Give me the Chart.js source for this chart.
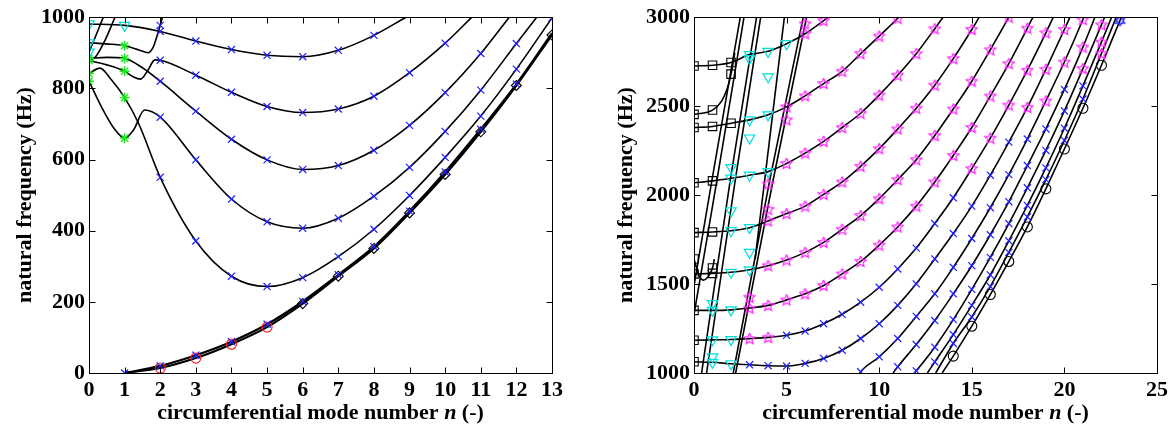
<!DOCTYPE html>
<html>
<head>
<meta charset="utf-8">
<script src="https://cdn.jsdelivr.net/npm/chart.js@4.4.0/dist/chart.umd.min.js"></script>
<style>
  body { margin: 0; background: #fff; width: 1176px; height: 430px; position: relative; overflow: hidden; }
  canvas { position: absolute; top: 0; }
  #left { left: 0; }
  #right { left: 596px; }
</style>
</head>
<body>
<canvas id="left" width="580" height="430"></canvas>
<canvas id="right" width="580" height="430"></canvas>
<script>
const FONT = '"Liberation Serif", "Times New Roman", serif';

// ---------- left panel: [n, Hz] ----------
const leftTicksX = [0, 1, 2, 3, 4, 5, 6, 7, 8, 9, 10, 11, 12, 13];
const leftTicksY = [0, 200, 400, 600, 800, 1000];

const lA = [[0, 981], [1, 977], [2, 960], [3, 933], [4, 909], [5, 893], [6, 889], [7, 907], [8, 949], [8.9, 1000]];
const lB = [[0, 928], [0.5, 925], [1, 920], [1.4, 908], [1.66, 900], [1.8, 915], [1.92, 950], [2, 977], [2.06, 1000]];
const lC = [[0, 878], [0.5, 866], [1, 848], [1.25, 832], [1.45, 826], [1.65, 850], [1.85, 880], [2, 879], [3, 837], [4, 789], [5, 749], [6, 732], [7, 742], [8, 778], [9, 844], [10, 927], [10.75, 1000]];
const lD = [[0, 884], [0.5, 887], [1, 884], [1.5, 858], [2, 820], [3, 736], [4, 657], [5, 599], [6, 572], [7, 583], [8, 626], [9, 696], [10, 788], [11, 898], [11.8, 1000]];
const lE = [[0, 820], [0.35, 748], [0.7, 688], [1, 660], [1.25, 683], [1.56, 739], [2, 719], [3, 599], [4, 489], [5, 425], [6, 407], [7, 435], [8, 497], [9, 578], [10, 679], [11, 795], [12, 926], [12.57, 1000]];
const lF = [[0, 842], [0.31, 857], [0.6, 828], [1, 774], [1.39, 702], [2, 550], [3, 371], [4, 272], [5, 243], [6, 268], [7, 327], [8, 404], [9, 499], [10, 606], [11, 722], [12, 854], [13, 998]];
const lG1 = [[1, 0], [2, 20], [3, 50], [4, 88], [5, 137], [6, 201], [7, 276], [8, 355], [9, 455], [10, 565], [11, 685], [12, 812], [13, 955]];
const lG2 = [[1, 0], [2, 14], [3, 42], [4, 81], [5, 129], [6, 195], [7, 272], [8, 350], [9, 450], [10, 558], [11, 678], [12, 808], [13, 950]];
const lH1 = [[0, 902], [0.2, 950], [0.4, 1000]];
const lH2 = [[0, 880], [0.17, 887], [0.45, 935], [0.73, 1000]];

// ---------- right panel: [n, Hz] ----------
const rightTicksX = [0, 5, 10, 15, 20, 25];
const rightTicksY = [1000, 1500, 2000, 2500, 3000];

const r1 = [[0, 1063], [1, 1060], [2, 1052], [3, 1046], [4, 1041], [5, 1039], [6, 1054], [7, 1082], [8, 1128], [9, 1194], [10, 1277], [11, 1380], [12, 1501], [13, 1641], [14, 1784], [15, 1938], [16, 2112], [17, 2298], [18, 2493], [19, 2707], [20, 2931], [20.3, 3000]];
const r2 = [[0, 1184], [1, 1186], [2, 1188], [3, 1193], [4, 1200], [5, 1212], [6, 1236], [7, 1277], [8, 1330], [9, 1398], [10, 1482], [11, 1585], [12, 1702], [13, 1840], [14, 1985], [15, 2149], [16, 2320], [17, 2506], [18, 2702], [19, 2912], [19.4, 3000]];
const r3 = [[0, 1352], [1, 1352], [2, 1355], [3, 1365], [4, 1380], [5, 1411], [6, 1445], [7, 1492], [8, 1557], [9, 1627], [10, 1719], [11, 1821], [12, 1938], [13, 2074], [14, 2223], [15, 2380], [16, 2557], [17, 2739], [18, 2938], [18.3, 3000]];
const r4 = [[0, 1557], [1, 1560], [2, 1566], [3, 1580], [4, 1603], [5, 1635], [6, 1678], [7, 1734], [8, 1808], [9, 1885], [10, 1980], [11, 2087], [12, 2199], [13, 2335], [14, 2484], [15, 2640], [16, 2817], [17, 3000]];
const r5 = [[0, 1789], [1, 1793], [2, 1800], [3, 1817], [4, 1855], [5, 1896], [6, 1938], [7, 2004], [8, 2074], [9, 2162], [10, 2261], [11, 2372], [12, 2488], [13, 2618], [14, 2767], [15, 2931], [15.4, 3000]];
const r6 = [[0, 2069], [1, 2080], [2, 2095], [3, 2112], [4, 2132], [5, 2178], [6, 2236], [7, 2302], [8, 2380], [9, 2460], [10, 2562], [11, 2674], [12, 2795], [13, 2935], [13.45, 3000]];
const r7 = [[0, 2380], [1, 2386], [2, 2404], [3, 2423], [4, 2451], [5, 2496], [6, 2558], [7, 2627], [8, 2696], [9, 2795], [10, 2894], [11, 2994], [11.05, 3000]];
const r8 = [[0, 2726], [1, 2730], [2, 2745], [3, 2790], [4, 2808], [5, 2851], [6, 2907], [7, 2981], [7.25, 3000]];

const s1 = [[8.96, 1000], [9, 1007], [10, 1091], [11, 1194], [12, 1318], [13, 1445], [14, 1594], [15, 1756], [16, 1929], [17, 2115], [18, 2315], [19, 2529], [20, 2748], [21, 2987], [21.05, 3000]];
const s2 = [[10.75, 1000], [11, 1035], [12, 1160], [13, 1295], [14, 1445], [15, 1603], [16, 1777], [17, 1963], [18, 2166], [19, 2372], [20, 2594], [21, 2832], [21.65, 3000]];
const s3 = [[11.9, 1000], [12, 1012], [13, 1145], [14, 1300], [15, 1470], [16, 1650], [17, 1840], [18, 2041], [19, 2251], [20, 2473], [21, 2711], [22, 2957], [22.17, 3000]];
const s4 = [[12.6, 1000], [13, 1062], [14, 1216], [15, 1380], [16, 1551], [17, 1743], [18, 1942], [19, 2153], [20, 2376], [21, 2614], [22, 2860], [22.55, 3000]];
const s5 = [[13.05, 1000], [14, 1166], [15, 1315], [16, 1486], [17, 1678], [18, 1877], [19, 2087], [20, 2307], [21, 2540], [22, 2795], [22.8, 3000]];
const s6 = [[13.4, 1000], [14, 1095], [15, 1263], [16, 1441], [17, 1627], [18, 1821], [19, 2035], [20, 2259], [21, 2488], [22, 2730], [23, 2981], [23.08, 3000]];

// steep branches and the two small loops near n = 0
const a1 = [[0, 1490], [0.96, 2078], [2.5, 3000]];
const a2 = [[0, 1330], [1.23, 2078], [2.7, 3000]];
const c1 = [[0.41, 1000], [1.95, 2078], [3.38, 3000]];
const c2 = [[0.68, 1000], [2.22, 2078], [3.6, 3000]];
const b1 = [[2.12, 1000], [4.08, 2078], [5.9, 3000]];
const b2 = [[2.25, 1000], [4.26, 2078], [6.08, 3000]];
const d1 = [[3.3, 1640], [4.88, 3000]];
const loop1 = [[0, 1641], [0.25, 1553], [0.5, 1522], [0.75, 1540], [1, 1590], [1.1, 1640]];
const loop2 = [[0, 2454], [1, 2478], [1.5, 2530], [1.8, 2600], [2, 2680], [2.2, 2800]];

const extraStars = [[3, 1426], [4, 1920], [4, 2063], [5, 2423], [6, 2963]];
const extraTris = [[1, 1091], [1, 1390], [2, 1911], [2, 2155], [3, 1678], [3, 2321], [3, 2767], [4, 2665]];

// ---------- marker glyphs ----------
function glyph(color, kind) {
  const c = document.createElement('canvas');
  c.width = c.height = 13;
  const g = c.getContext('2d');
  g.strokeStyle = color;
  g.lineWidth = 1.2;
  g.beginPath();
  if (kind === 'pent') {
    for (let i = 0; i <= 10; i++) {
      const r = i % 2 ? 2.6 : 5.8;
      const t = -Math.PI / 2 + i * Math.PI / 5;
      const px = 6.5 + r * Math.cos(t), py = 6.8 + r * Math.sin(t);
      if (i) g.lineTo(px, py); else g.moveTo(px, py);
    }
  } else {
    [0, Math.PI].forEach(off => {
      for (let i = 0; i <= 3; i++) {
        const t = -Math.PI / 2 + off + i * 2 * Math.PI / 3;
        const px = 6.5 + 5.5 * Math.cos(t), py = 6.5 + 5.5 * Math.sin(t);
        if (i) g.lineTo(px, py); else g.moveTo(px, py);
      }
    });
  }
  g.stroke();
  return c;
}

const STYLES = {
  x: { pointStyle: 'crossRot', pointRadius: 5, pointBorderColor: '#1f1fff', pointBorderWidth: 1.2 },
  tri: { pointStyle: 'triangle', pointRotation: 180, pointRadius: 6, pointBorderColor: '#00dede', pointBorderWidth: 1.2 },
  ast: { pointStyle: 'star', pointRadius: 5, pointBorderColor: '#1ee61e', pointBorderWidth: 1.4 },
  circle: { pointStyle: 'circle', pointRadius: 5, pointBorderColor: '#ff2020', pointBorderWidth: 1.2 },
  ring: { pointStyle: 'circle', pointRadius: 5, pointBorderColor: '#000', pointBorderWidth: 1.1 },
  diamond: { pointStyle: 'rectRot', pointRadius: 5, pointBorderColor: '#000', pointBorderWidth: 1.1 },
  sq: { pointStyle: 'rect', pointRadius: 6, pointBorderColor: '#000', pointBorderWidth: 1.1 },
  star: { pointStyle: glyph('#ff22ff', 'pent'), pointRadius: 5 },
  hex: { pointStyle: glyph('#1f1fff', 'hex'), pointRadius: 5 }
};

function pick(curve, from, to) {
  return curve.filter(p => Number.isInteger(p[0]) && p[0] >= from && p[0] <= to);
}

function lineSet(pts, w) {
  return {
    data: pts.map(p => ({ x: p[0], y: p[1] })),
    borderColor: '#000', borderWidth: w || 1.6, pointRadius: 0,
    cubicInterpolationMode: 'monotone', order: 2
  };
}

function markSet(pts, kind) {
  return Object.assign({
    data: pts.map(p => ({ x: p[0], y: p[1] })),
    showLine: false, order: 1, pointBackgroundColor: 'rgba(0,0,0,0)'
  }, STYLES[kind]);
}

const leftMarks = [
  [lA, 'x', 2, 8], [lB, 'x', 2, 2], [lC, 'x', 2, 10], [lD, 'x', 2, 11], [lE, 'x', 2, 12], [lF, 'x', 2, 13], [lG1, 'x', 1, 12],
  [lG2, 'circle', 2, 5], [lG2, 'diamond', 6, 13],
  [lA, 'tri', 0, 1], [lB, 'tri', 0, 0], [lH1, 'tri', 0, 0],
  [lB, 'ast', 1, 1], [lC, 'ast', 0, 1], [lD, 'ast', 0, 1], [lE, 'ast', 0, 1], [lF, 'ast', 0, 1]
];

const rightMarks = [
  [r1, 'sq', 0, 0], [r1, 'tri', 1, 2], [r1, 'x', 3, 17], [r1, 'star', 18, 20],
  [r2, 'sq', 0, 0], [r2, 'tri', 1, 2], [r2, 'star', 3, 4], [r2, 'x', 5, 14], [r2, 'star', 15, 19],
  [r3, 'sq', 0, 0], [r3, 'tri', 1, 2], [r3, 'star', 3, 18],
  [r4, 'sq', 0, 1], [r4, 'tri', 2, 3], [r4, 'star', 4, 17],
  [r5, 'sq', 0, 1], [r5, 'tri', 2, 3], [r5, 'star', 4, 15],
  [r6, 'sq', 0, 1], [r6, 'tri', 2, 4], [r6, 'star', 5, 13],
  [r7, 'sq', 0, 2], [r7, 'tri', 3, 4], [r7, 'star', 5, 11],
  [r8, 'sq', 0, 2], [r8, 'tri', 3, 5], [r8, 'star', 6, 7],
  [s1, 'x', 9, 18], [s1, 'star', 19, 21],
  [s2, 'x', 11, 20], [s2, 'star', 21, 21],
  [s3, 'x', 12, 20], [s3, 'star', 21, 22],
  [s4, 'x', 13, 21], [s4, 'star', 22, 22],
  [s5, 'x', 14, 21], [s5, 'star', 22, 22],
  [s6, 'ring', 14, 22], [s6, 'hex', 23, 23],
  [loop1, 'sq', 0, 1], [loop2, 'sq', 0, 2]
];

// frame, inward ticks and axis titles (x title has an italic n)
const framePlugin = {
  id: 'frame',
  afterDatasetsDraw(chart, args, o) {
    const { ctx, chartArea: a } = chart;
    const sx = chart.scales.x, sy = chart.scales.y;
    ctx.save();
    ctx.strokeStyle = '#000';
    ctx.lineWidth = 1;
    const L = Math.round(a.left) + 0.5, T = Math.round(a.top) + 0.5;
    const R = Math.round(a.right) + 0.5, B = Math.round(a.bottom) + 0.5;
    ctx.strokeRect(L, T, R - L, B - T);
    ctx.beginPath();
    sx.ticks.forEach(t => {
      const px = Math.round(sx.getPixelForValue(t.value)) + 0.5;
      ctx.moveTo(px, B); ctx.lineTo(px, B - 6);
      ctx.moveTo(px, T); ctx.lineTo(px, T + 6);
    });
    sy.ticks.forEach(t => {
      const py = Math.round(sy.getPixelForValue(t.value)) + 0.5;
      ctx.moveTo(L, py); ctx.lineTo(L + 6, py);
      ctx.moveTo(R, py); ctx.lineTo(R - 6, py);
    });
    ctx.stroke();

    ctx.fillStyle = '#000';
    const parts = [['circumferential mode number ', 'bold'], ['n', 'italic bold'], [' (-)', 'bold']];
    let total = 0;
    parts.forEach(p => { ctx.font = p[1] + ' 22px ' + FONT; p.push(ctx.measureText(p[0]).width); total += p[2]; });
    let x = (a.left + a.right) / 2 - total / 2;
    ctx.textAlign = 'left';
    ctx.textBaseline = 'alphabetic';
    parts.forEach(p => { ctx.font = p[1] + ' 22px ' + FONT; ctx.fillText(p[0], x, 419); x += p[2]; });

    ctx.translate(o.yTitleX, (a.top + a.bottom) / 2);
    ctx.rotate(-Math.PI / 2);
    ctx.font = 'bold 22px ' + FONT;
    ctx.textAlign = 'center';
    ctx.textBaseline = 'middle';
    ctx.fillText('natural frequency (Hz)', 0, 0);
    ctx.restore();
  }
};

function makePanel(id, curves, thick, marks, extras, xr, yr, tx, ty, yWidth, padRight, yTitleX) {
  const datasets = [];
  curves.forEach(c => datasets.push(lineSet(c)));
  thick.forEach(c => datasets.push(lineSet(c, 2.2)));
  marks.forEach(m => datasets.push(markSet(pick(m[0], m[2], m[3]), m[1])));
  extras.forEach(e => datasets.push(markSet(e[0], e[1])));
  const tickFont = { family: FONT, size: 22, weight: 'bold' };
  return new Chart(document.getElementById(id), {
    type: 'line',
    data: { datasets },
    plugins: [framePlugin],
    options: {
      responsive: false,
      animation: false,
      events: [],
      layout: { padding: { top: 15, right: padRight, left: 0, bottom: 0 } },
      plugins: { legend: { display: false }, tooltip: { enabled: false }, frame: { yTitleX } },
      scales: {
        x: {
          type: 'linear', min: xr[0], max: xr[1],
          afterBuildTicks: s => { s.ticks = tx.map(v => ({ value: v })); },
          ticks: { font: tickFont, color: '#000', padding: 4, maxRotation: 0, autoSkip: false, callback: v => String(v) },
          grid: { display: false, drawTicks: false }, border: { display: false },
          afterFit: s => { s.height = 57; }
        },
        y: {
          type: 'linear', min: yr[0], max: yr[1],
          afterBuildTicks: s => { s.ticks = ty.map(v => ({ value: v })); },
          ticks: { font: tickFont, color: '#000', padding: 4, autoSkip: false, callback: v => String(v) },
          grid: { display: false, drawTicks: false }, border: { display: false },
          afterFit: s => { s.width = yWidth; }
        }
      }
    }
  });
}

makePanel('left',
  [lA, lB, lC, lD, lE, lF, lH1, lH2], [lG1, lG2], leftMarks, [],
  [0, 13], [0, 1000], leftTicksX, leftTicksY, 89, 28, 25);

makePanel('right',
  [r1, r2, r3, r4, r5, r6, r7, r8, s1, s2, s3, s4, s5, s6, a1, a2, c1, c2, b1, b2, d1, loop1, loop2], [],
  rightMarks, [[extraStars, 'star'], [extraTris, 'tri']],
  [0, 25], [1000, 3000], rightTicksX, rightTicksY, 98, 19, 30);
</script>
</body>
</html>
